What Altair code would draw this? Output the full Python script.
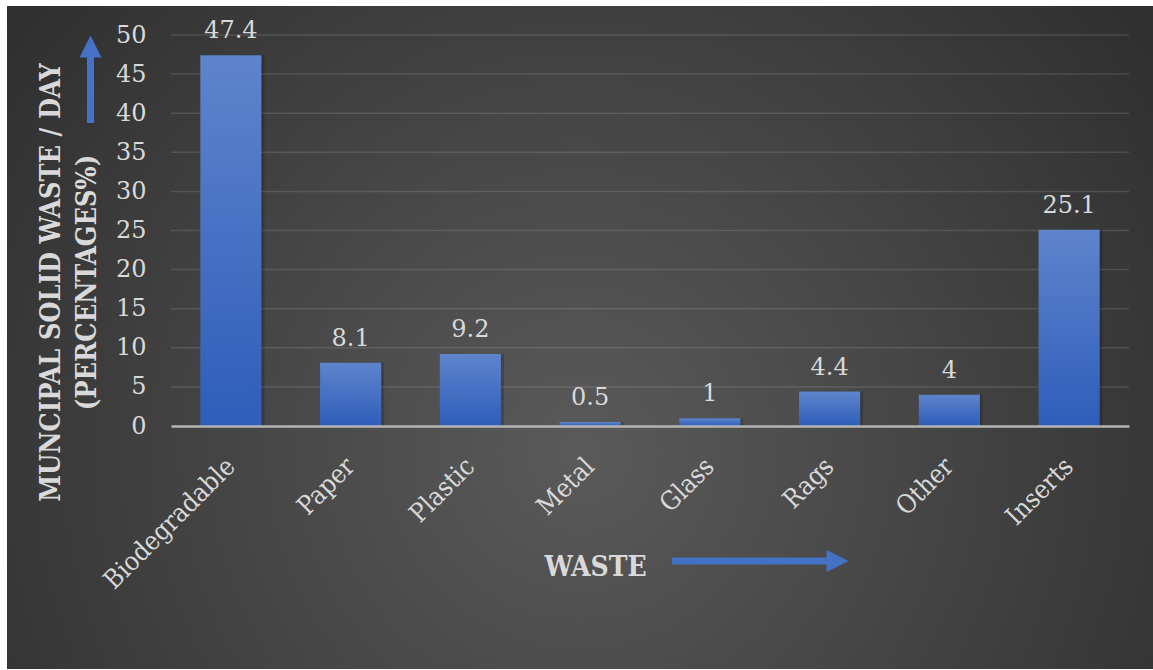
import altair as alt
import pandas as pd

categories = ["Biodegradable", "Paper", "Plastic", "Metal", "Glass", "Rags", "Other", "Inserts"]
values = [47.4, 8.1, 9.2, 0.5, 1, 4.4, 4, 25.1]
y_ticks = [0, 5, 10, 15, 20, 25, 30, 35, 40, 45, 50]
grid_ticks = [5, 10, 15, 20, 25, 30, 35, 40, 45, 50]

df = pd.DataFrame({"category": categories, "value": values})
grid_df = pd.DataFrame({"value": grid_ticks})
one = pd.DataFrame({"k": [0]})

W, H = 958, 391
TXT = "#d9d9d9"
BLUE = "#4472c4"
SERIF = "DejaVu Serif"
COND = "DejaVu Serif Condensed"

xscale = alt.Scale(domain=categories, paddingInner=0.49, paddingOuter=0.245)
yscale = alt.Scale(domain=[0, 50], nice=False)

xaxis = alt.Axis(title="WASTE", labelAngle=-45, labelFontSize=26,
                 labelFont=COND, labelColor=TXT, labelAlign="right",
                 labelBaseline="middle", labelPadding=36, ticks=False,
                 domain=True, domainColor="#b4b4b4", domainWidth=2.5,
                 titleFont=COND, titleFontSize=28, titleFontWeight="bold",
                 titleColor=TXT, titleX=424, titleY=149,
                 titleBaseline="alphabetic", titleAlign="center",
                 zindex=1)
yaxis = alt.Axis(title=["MUNCIPAL SOLID WASTE / DAY", "(PERCENTAGES%)"],
                 values=y_ticks, grid=False, domain=False, ticks=False,
                 labelFontSize=24, labelFont=SERIF, labelColor=TXT,
                 labelPadding=25,
                 titleFont=COND, titleFontSize=27, titleFontWeight="bold",
                 titleColor=TXT, titleX=-133, titleY=247, titleAngle=-90,
                 titleAlign="center", titleBaseline="top",
                 titleLineHeight=36, zindex=1)

bg = alt.Chart(one).mark_rect(
    color=alt.RadialGradient(
        gradient="radial",
        stops=[alt.GradientStop(offset=0, color="#5a5a5a"),
               alt.GradientStop(offset=1, color="#232323")],
        x1=0.5, y1=0.6, r1=0, x2=0.5, y2=0.6, r2=0.8,
    )
).encode(
    x=alt.value(-164), x2=alt.value(W + 24), y=alt.value(-29), y2=alt.value(634)
)

grid = alt.Chart(grid_df).mark_rule(color="#ffffff", opacity=0.12, strokeWidth=1.5).encode(
    y=alt.Y("value:Q", scale=yscale, axis=yaxis),
    x=alt.value(0), x2=alt.value(W),
)

shadow = alt.Chart(df).mark_bar(color="#000000", opacity=0.18, xOffset=3).encode(
    x=alt.X("category:N", scale=xscale, sort=categories, axis=xaxis),
    y=alt.Y("value:Q", scale=yscale, axis=yaxis),
)

bars = alt.Chart(df).mark_bar(
    color=alt.LinearGradient(
        gradient="linear",
        stops=[alt.GradientStop(offset=0, color="#5e84cc"),
               alt.GradientStop(offset=1, color="#2e5eba")],
        x1=0, y1=0, x2=0, y2=1,
    )
).encode(
    x=alt.X("category:N", scale=xscale, sort=categories, axis=xaxis),
    y=alt.Y("value:Q", scale=yscale, axis=yaxis),
)

labels = alt.Chart(df).mark_text(
    font=SERIF, fontSize=24, color=TXT, baseline="alphabetic", dy=-17
).encode(
    x=alt.X("category:N", scale=xscale, sort=categories, axis=xaxis),
    y=alt.Y("value:Q", scale=yscale, axis=yaxis),
    text=alt.Text("value:Q"),
)

y_shaft = alt.Chart(one).mark_rule(color=BLUE, strokeWidth=7).encode(
    x=alt.value(90.5 - 171), y=alt.value(57 - 35), y2=alt.value(123 - 35)
)
y_head = alt.Chart(one).mark_point(
    shape="M-1,1L0,-1L1,1Z", filled=True, color=BLUE, opacity=1, size=484, strokeWidth=0
).encode(x=alt.value(90.5 - 171), y=alt.value(46.5 - 35))

x_shaft = alt.Chart(one).mark_rule(color=BLUE, strokeWidth=7).encode(
    x=alt.value(672 - 171), x2=alt.value(829 - 171), y=alt.value(561 - 35)
)
x_head = alt.Chart(one).mark_point(
    shape="M-1,-1L1,0L-1,1Z", filled=True, color=BLUE, opacity=1, size=484, strokeWidth=0
).encode(x=alt.value(837.5 - 171), y=alt.value(561 - 35))

chart = alt.layer(bg, grid, shadow, bars, labels, y_shaft, y_head, x_shaft, x_head).properties(
    width=W, height=H,
    autosize=alt.AutoSizeParams(type="none"),
    padding={"left": 171, "top": 35, "right": 24, "bottom": 244},
).configure(background="#ffffff").configure_view(stroke=None)

chart.save("out.html", embed_options={"renderer": "svg", "actions": False})
